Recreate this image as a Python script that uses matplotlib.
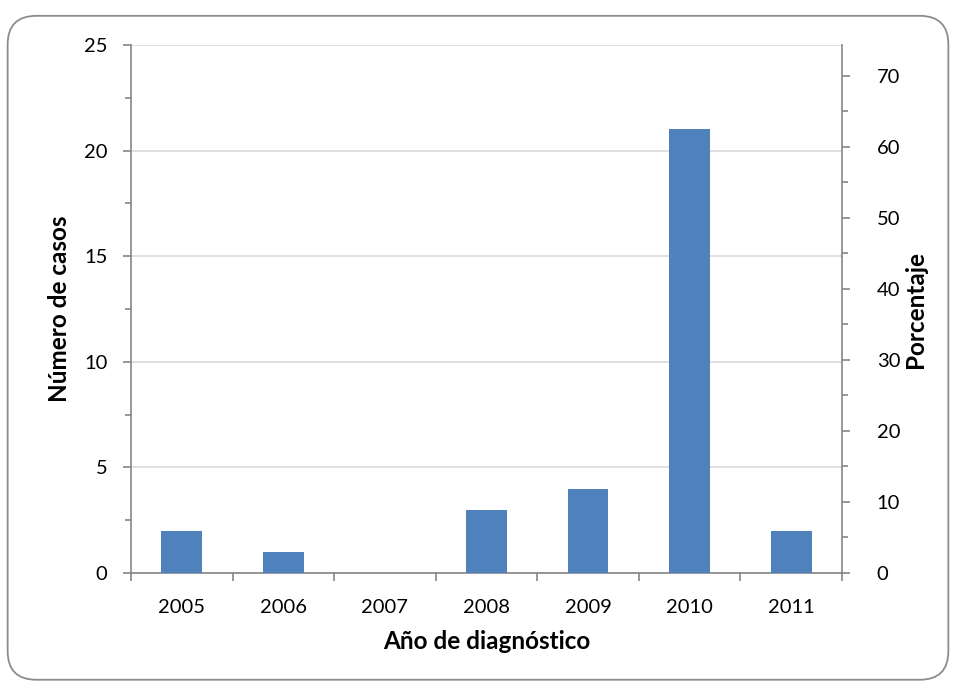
import matplotlib
matplotlib.use("Agg")
import matplotlib.pyplot as plt
from matplotlib.patches import FancyBboxPatch
from matplotlib.ticker import MultipleLocator

years = ["2005", "2006", "2007", "2008", "2009", "2010", "2011"]
cases = [2, 1, 0, 3, 4, 21, 2]
left_max = 25
right_max = 74.3

plt.rcParams['font.family'] = ['Lato', 'DejaVu Sans']

fig = plt.figure(figsize=(9.56, 6.88), dpi=100)
border = FancyBboxPatch((0.008, 0.012), 0.984, 0.965, boxstyle="round,pad=0,rounding_size=0.03",
                        transform=fig.transFigure, fill=False, edgecolor='#8c8c8c', linewidth=1.3,
                        mutation_aspect=956/688)
fig.patches.append(border)

ax = fig.add_axes([131/956, 1-573/688, (842-131)/956, (573-45)/688])
x = list(range(len(years)))
ax.bar(x, cases, width=0.4, color='#4F81BD', zorder=3)
ax.set_xlim(-0.5, len(years)-0.5)
ax.set_ylim(0, left_max)
ax.yaxis.set_major_locator(MultipleLocator(5))
ax.yaxis.set_minor_locator(MultipleLocator(2.5))
ax.grid(axis='y', which='major', color='#d9d9d9', linewidth=1.2, zorder=0)
ax.set_xticks(x)
ax.set_xticklabels(years)
ax.set_xticks([i-0.5 for i in range(len(years)+1)], minor=True)
ax.tick_params(axis='x', which='major', length=0, labelsize=14.5, pad=19)
ax.tick_params(axis='x', which='minor', length=6, color='#868686', width=1.2)
ax.tick_params(axis='y', which='major', length=6, color='#868686', width=1.2, labelsize=14.5, pad=11)
ax.tick_params(axis='y', which='minor', length=4, color='#868686', width=1.2)
for s in ['top', 'right']:
    ax.spines[s].set_visible(False)
for s in ['left', 'bottom']:
    ax.spines[s].set_color('#868686')
    ax.spines[s].set_linewidth(1.2)
ax.set_xlabel('Año de diagnóstico', fontsize=17.5, fontweight='bold', labelpad=10)
ax.set_ylabel('Número de casos', fontsize=17.5, fontweight='bold', labelpad=9)

ax2 = ax.twinx()
ax2.set_ylim(0, right_max)
ax2.yaxis.set_major_locator(MultipleLocator(10))
ax2.yaxis.set_minor_locator(MultipleLocator(5))
for s in ['top', 'left', 'bottom']:
    ax2.spines[s].set_visible(False)
ax2.spines['right'].set_color('#868686')
ax2.spines['right'].set_linewidth(1.2)
ax2.tick_params(axis='y', which='major', length=6, color='#868686', width=1.2, labelsize=14.5, pad=19)
ax2.tick_params(axis='y', which='minor', length=4, color='#868686', width=1.2)
ax2.set_ylabel('Porcentaje', fontsize=17.5, fontweight='bold', labelpad=3)

fig.savefig('out.png', dpi=100)
